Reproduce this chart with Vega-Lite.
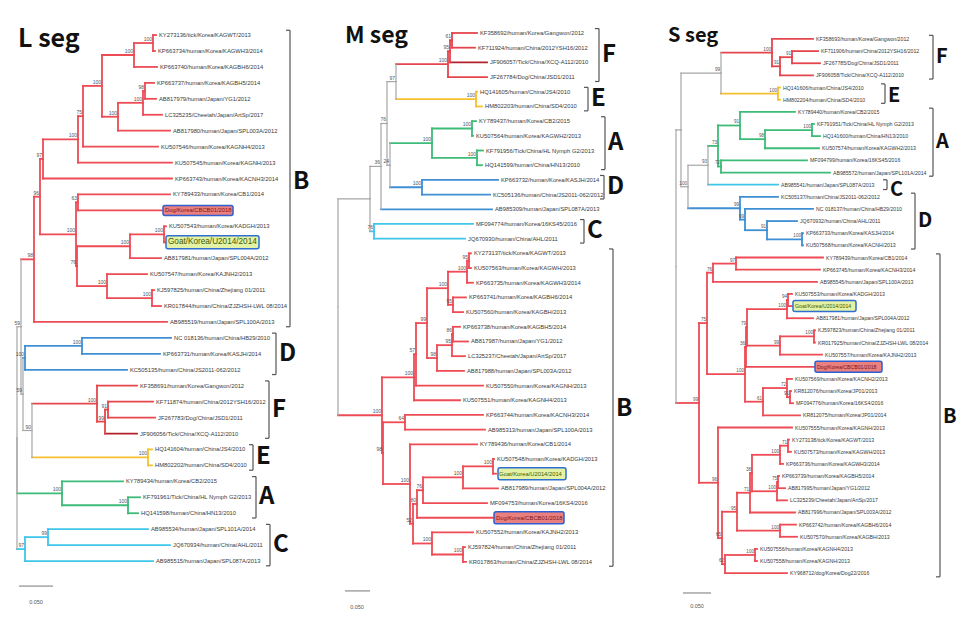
{
"$schema":"https://vega.github.io/schema/vega-lite/v6.json",
"padding":0,"spacing":0,"bounds":"flush","background":"white",
"config":{"view":{"stroke":null},"axis":{"disable":true},"legend":{"disable":true},"text":{"font":"Liberation Sans"}},
"datasets":{
"L":[
{"id":"R","x":17,"y":26.28,"c":"bb"},
{"id":"G1","p":"R","x":21,"y":19.3,"c":"bb","b":"59"},
{"id":"DFE","p":"G1","x":23,"y":23.53,"c":"bb","b":"59"},
{"id":"FE","p":"DFE","x":32,"y":25.81,"c":"bb","b":"90"},
{"id":"B0","p":"G1","x":34,"y":15.07,"c":"B","b":"98"},
{"id":"B1","p":"B0","x":40,"y":11.14,"c":"B","b":"96"},
{"id":"Bt","p":"B1","x":43,"y":8.77,"c":"B","b":"97"},
{"id":"n1_9","p":"Bt","x":78,"y":7.55,"c":"B","b":"100"},
{"id":"n1_8","p":"n1_9","x":83,"y":6.09,"c":"B","b":"75"},
{"id":"n1_7","p":"n1_8","x":102,"y":4.19,"c":"B","b":"100"},
{"id":"n1_3","p":"n1_7","x":134,"y":2.25,"c":"B","b":"100"},
{"id":"n1_2","p":"n1_3","x":153,"y":1.5,"c":"B","b":"100"},
{"id":"n4_7","p":"n1_7","x":118,"y":6.125,"c":"B","b":"100"},
{"id":"n4_6","p":"n4_7","x":143,"y":5.25,"c":"B","b":"100"},
{"id":"n4_5","p":"n4_6","x":145,"y":4.5,"c":"B","b":"98"},
{"id":"B2","p":"B1","x":76,"y":13.5,"c":"B","b":"100"},
{"id":"n11_12","p":"B2","x":78,"y":11.5,"c":"B","b":"63"},
{"id":"B3","p":"B2","x":77,"y":15.5,"c":"B","b":"76"},
{"id":"n13_15","p":"B3","x":130,"y":14.25,"c":"B","b":"100"},
{"id":"n13_14","p":"n13_15","x":164,"y":13.5,"c":"B","b":"100"},
{"id":"n16_18","p":"B3","x":107,"y":16.75,"c":"B","b":"100"},
{"id":"n17_18","p":"n16_18","x":152,"y":17.5,"c":"B","b":"100"},
{"id":"D0","p":"DFE","x":25,"y":21.25,"c":"D","b":"100"},
{"id":"n20_21","p":"D0","x":82,"y":20.5,"c":"D","b":"100"},
{"id":"F0","p":"FE","x":97,"y":24.125,"c":"F","b":"100"},
{"id":"n24_26","p":"F0","x":105,"y":25.25,"c":"F","b":"99"},
{"id":"n24_25","p":"n24_26","x":108,"y":24.5,"c":"F","b":"91"},
{"id":"E0","p":"FE","x":148,"y":27.5,"c":"E","b":"100"},
{"id":"A0","p":"R","x":62,"y":29.75,"c":"A","b":"100"},
{"id":"n30_31","p":"A0","x":128,"y":30.5,"c":"A","b":"100"},
{"id":"C0","p":"R","x":25,"y":33.25,"c":"C","b":"97"},
{"id":"n32_33","p":"C0","x":48,"y":32.5,"c":"C","b":"99"},
{"p":"n1_2","x":156,"y":1,"c":"B","t":"KY273136/tick/Korea/KAGWT/2013"},
{"p":"n1_2","x":155,"y":2,"c":"B","t":"KP663734/human/Korea/KAGWH3/2014"},
{"p":"n1_3","x":157,"y":3,"c":"B","t":"KP663740/human/Korea/KAGBH6/2014"},
{"p":"n4_5","x":154,"y":4,"c":"B","t":"KP663737/human/Korea/KAGBH5/2014"},
{"p":"n4_5","x":156,"y":5,"c":"B","t":"AB817979/human/Japan/YG1/2012"},
{"p":"n4_6","x":162,"y":6,"c":"B","t":"LC325235/Cheetah/Japan/ArtSp/2017"},
{"p":"n4_7","x":170,"y":7,"c":"B","t":"AB817980/human/Japan/SPL003A/2012"},
{"p":"n1_8","x":158,"y":8,"c":"B","t":"KU507546/human/Korea/KAGNH4/2013"},
{"p":"n1_9","x":172,"y":9,"c":"B","t":"KU507545/human/Korea/KAGNH/2013"},
{"p":"Bt","x":172,"y":10,"c":"B","t":"KP663743/human/Korea/KACNH3/2014"},
{"p":"n11_12","x":170,"y":11,"c":"B","t":"KY789433/human/Korea/CB1/2014"},
{"p":"n11_12","x":162,"y":12,"c":"B","t":"Dog/Korea/CBCB01/2018","h":"dog"},
{"p":"n13_14","x":166,"y":13,"c":"B","t":"KU507543/human/Korea/KADGH/2013"},
{"p":"n13_14","x":165,"y":14,"c":"B","t":"Goat/Korea/U2014/2014","h":"goat"},
{"p":"n13_15","x":161,"y":15,"c":"B","t":"AB817981/human/Japan/SPL004A/2012"},
{"p":"n16_18","x":147,"y":16,"c":"B","t":"KU507547/human/Korea/KAJNH2/2013"},
{"p":"n17_18","x":154,"y":17,"c":"B","t":"KJ597825/human/China/Zhejiang 01/2011"},
{"p":"n17_18","x":161,"y":18,"c":"B","t":"KR017844/human/China/ZJZHSH-LWL 08/2014"},
{"p":"B0","x":167,"y":19,"c":"B","t":"AB985519/human/Japan/SPL100A/2013"},
{"p":"n20_21","x":171,"y":20,"c":"D","t":"NC 018136/human/China/HB29/2010"},
{"p":"n20_21","x":160,"y":21,"c":"D","t":"KP663731/human/Korea/KASJH/2014"},
{"p":"D0","x":127,"y":22,"c":"D","t":"KC505135/human/China/JS2011-062/2012"},
{"p":"F0","x":137,"y":23,"c":"F","t":"KF358691/human/Korea/Gangwon/2012"},
{"p":"n24_25","x":153,"y":24,"c":"F","t":"KF711874/human/China/2012YSH16/2012"},
{"p":"n24_25","x":155,"y":25,"c":"F","t":"JF267783/Dog/China/JSD1/2011"},
{"p":"n24_26","x":137,"y":26,"c":"Ft","t":"JF906056/Tick/China/XCQ-A112/2010"},
{"p":"E0","x":152,"y":27,"c":"E","t":"HQ141604/human/China/JS4/2010"},
{"p":"E0","x":152,"y":28,"c":"E","t":"HM802202/human/China/SD4/2010"},
{"p":"A0","x":123,"y":29,"c":"A","t":"KY789434/human/Korea/CB2/2015"},
{"p":"n30_31","x":140,"y":30,"c":"A","t":"KF791961/Tick/China/HL Nymph G2/2013"},
{"p":"n30_31","x":138,"y":31,"c":"A","t":"HQ141598/human/China/HN13/2010"},
{"p":"n32_33","x":148,"y":32,"c":"C","t":"AB985534/human/Japan/SPL101A/2014"},
{"p":"n32_33","x":170,"y":33,"c":"C","t":"JQ670934/human/China/AHL/2011"},
{"p":"C0","x":153,"y":34,"c":"C","t":"AB985515/human/Japan/SPL087A/2013"}
],
"M":[
{"id":"R","x":28,"y":19.65,"c":"bb"},
{"id":"nB","p":"R","x":60,"y":12.29,"c":"bb"},
{"id":"q13","p":"nB","x":71,"y":10.08,"c":"bb","b":"36"},
{"id":"qFEAD","p":"q13","x":77,"y":7.16,"c":"bb","b":"76"},
{"id":"FE","p":"qFEAD","x":86,"y":4.31,"c":"bb","b":"97"},
{"id":"F0","p":"FE","x":138,"y":3.125,"c":"F","b":"100"},
{"id":"n1_3","p":"F0","x":140,"y":2.25,"c":"F","b":"95"},
{"id":"n1_2","p":"n1_3","x":142,"y":1.5,"c":"F","b":"61"},
{"id":"E0","p":"FE","x":166,"y":5.5,"c":"E","b":"100"},
{"id":"AD","p":"qFEAD","x":80,"y":10,"c":"bb","b":"24"},
{"id":"A0","p":"AD","x":122,"y":8.5,"c":"A","b":"100"},
{"id":"n7_8","p":"A0","x":162,"y":7.5,"c":"A","b":"100"},
{"id":"n9_10","p":"A0","x":167,"y":9.5,"c":"A","b":"100"},
{"id":"D0","p":"AD","x":112,"y":11.5,"c":"D","b":"100"},
{"id":"C0","p":"nB","x":64,"y":14.5,"c":"C","b":"76"},
{"id":"B1","p":"R","x":72,"y":27.02,"c":"B","b":"100"},
{"id":"n16_26","p":"B1","x":104,"y":24.44,"c":"B","b":"100"},
{"id":"n16_25","p":"n16_26","x":106,"y":22.875,"c":"B","b":"57"},
{"id":"n16_24","p":"n16_25","x":117,"y":20.75,"c":"B","b":"99"},
{"id":"n16_20","p":"n16_24","x":138,"y":18.375,"c":"B","b":"100"},
{"id":"n16_18","p":"n16_20","x":157,"y":17.25,"c":"B","b":"100"},
{"id":"n16_17","p":"n16_18","x":159,"y":16.5,"c":"B","b":"95"},
{"id":"n19_20","p":"n16_20","x":143,"y":19.5,"c":"B","b":"95"},
{"id":"n21_24","p":"n16_24","x":127,"y":23.125,"c":"B","b":"98"},
{"id":"n21_23","p":"n21_24","x":142,"y":22.25,"c":"B","b":"95"},
{"id":"n21_22","p":"n21_23","x":143,"y":21.5,"c":"B","b":"86"},
{"id":"B2","p":"B1","x":73,"y":29.6,"c":"B","b":"98"},
{"id":"n27_28","p":"B2","x":95,"y":27.5,"c":"B","b":"64"},
{"id":"n29_37","p":"B2","x":100,"y":31.7,"c":"B","b":"100"},
{"id":"n30_37","p":"n29_37","x":103,"y":34.4,"c":"B","b":"52"},
{"id":"n30_34","p":"n30_37","x":107,"y":33.06,"c":"B","b":"80"},
{"id":"n30_33","p":"n30_34","x":113,"y":32.125,"c":"B","b":"76"},
{"id":"n30_32","p":"n30_33","x":153,"y":31.25,"c":"B","b":"100"},
{"id":"n30_31","p":"n30_32","x":183,"y":30.5,"c":"B","b":"100"},
{"id":"n35_37","p":"n30_37","x":122,"y":35.75,"c":"B","b":"100"},
{"id":"n36_37","p":"n35_37","x":153,"y":36.5,"c":"B","b":"100"},
{"p":"n1_2","x":167,"y":1,"c":"F","t":"KF358692/human/Korea/Gangwon/2012"},
{"p":"n1_2","x":165,"y":2,"c":"F","t":"KF711924/human/China/2012YSH16/2012"},
{"p":"n1_3","x":177,"y":3,"c":"Ft","t":"JF906057/Tick/China/XCQ-A112/2010"},
{"p":"F0","x":177,"y":4,"c":"F","t":"JF267784/Dog/China/JSD1/2011"},
{"p":"E0","x":167,"y":5,"c":"E","t":"HQ141605/human/China/JS4/2010"},
{"p":"E0","x":172,"y":6,"c":"E","t":"HM802203/human/China/SD4/2010"},
{"p":"n7_8","x":166,"y":7,"c":"A","t":"KY789437/human/Korea/CB2/2015"},
{"p":"n7_8","x":163,"y":8,"c":"A","t":"KU507564/human/Korea/KAGWH2/2013"},
{"p":"n9_10","x":173,"y":9,"c":"A","t":"KF791956/Tick/China/HL Nymph G2/2013"},
{"p":"n9_10","x":172,"y":10,"c":"A","t":"HQ141599/human/China/HN13/2010"},
{"p":"D0","x":188,"y":11,"c":"D","t":"KP663732/human/Korea/KASJH/2014"},
{"p":"D0","x":180,"y":12,"c":"D","t":"KC505136/human/China/JS2011-062/2012"},
{"p":"q13","x":182,"y":13,"c":"D","t":"AB985309/human/Japan/SPL087A/2013"},
{"p":"C0","x":163,"y":14,"c":"C","t":"MF094774/human/Korea/16KS45/2016"},
{"p":"C0","x":155,"y":15,"c":"C","t":"JQ670930/human/China/AHL/2011"},
{"p":"n16_17","x":161,"y":16,"c":"B","t":"KY273137/tick/Korea/KAGWT/2013"},
{"p":"n16_17","x":161,"y":17,"c":"B","t":"KU507563/human/Korea/KAGWH/2013"},
{"p":"n16_18","x":163,"y":18,"c":"B","t":"KP663735/human/Korea/KAGWH3/2014"},
{"p":"n19_20","x":156,"y":19,"c":"B","t":"KP663741/human/Korea/KAGBH6/2014"},
{"p":"n19_20","x":153,"y":20,"c":"B","t":"KU507560/human/Korea/KAGBH/2013"},
{"p":"n21_22","x":150,"y":21,"c":"B","t":"KP663738/human/Korea/KAGBH5/2014"},
{"p":"n21_22","x":158,"y":22,"c":"B","t":"AB817987/human/Japan/YG1/2012"},
{"p":"n21_23","x":155,"y":23,"c":"B","t":"LC325237/Cheetah/Japan/ArtSp/2017"},
{"p":"n21_24","x":154,"y":24,"c":"B","t":"AB817988/human/Japan/SPL003A/2012"},
{"p":"n16_25","x":173,"y":25,"c":"B","t":"KU507550/human/Korea/KAGNH/2013"},
{"p":"n16_26","x":150,"y":26,"c":"B","t":"KU507551/human/Korea/KAGNH4/2013"},
{"p":"n27_28","x":173,"y":27,"c":"B","t":"KP663744/human/Korea/KACNH3/2014"},
{"p":"n27_28","x":175,"y":28,"c":"B","t":"AB985313/human/Japan/SPL100A/2013"},
{"p":"n29_37","x":167,"y":29,"c":"B","t":"KY789436/human/Korea/CB1/2014"},
{"p":"n30_31","x":184,"y":30,"c":"B","t":"KU507548/human/Korea/KADGH/2013"},
{"p":"n30_31","x":186,"y":31,"c":"B","t":"Goat/Korea/U2014/2014","h":"goat"},
{"p":"n30_32","x":188,"y":32,"c":"B","t":"AB817989/human/Japan/SPL004A/2012"},
{"p":"n30_33","x":177,"y":33,"c":"B","t":"MF094753/human/Korea/16KS4/2016"},
{"p":"n30_34","x":183,"y":34,"c":"B","t":"Dog/Korea/CBCB01/2018","h":"dog"},
{"p":"n35_37","x":163,"y":35,"c":"B","t":"KU507552/human/Korea/KAJNH2/2013"},
{"p":"n36_37","x":155,"y":36,"c":"B","t":"KJ597824/human/China/Zhejiang 01/2011"},
{"p":"n36_37","x":156,"y":37,"c":"B","t":"KR017863/human/China/ZJZHSH-LWL 08/2014"}
],
"S":[
{"id":"R","x":36,"y":19.75,"c":"bb"},
{"id":"r1","p":"R","x":41,"y":8.49,"c":"bb"},
{"id":"FE","p":"r1","x":81,"y":3.81,"c":"bb","b":"99"},
{"id":"F0","p":"FE","x":132,"y":2.125,"c":"F","b":"100"},
{"id":"n2_4","p":"F0","x":140,"y":3.25,"c":"F","b":"91"},
{"id":"n2_3","p":"n2_4","x":152,"y":2.5,"c":"F","b":"91"},
{"id":"E0","p":"FE","x":138,"y":5.5,"c":"E","b":"100"},
{"id":"ACD","p":"r1","x":48,"y":13.17,"c":"bb","b":"100"},
{"id":"AC","p":"ACD","x":68,"y":11.4,"c":"bb","b":"93"},
{"id":"A0","p":"AC","x":78,"y":9.81,"c":"A","b":"73"},
{"id":"n7_10","p":"A0","x":100,"y":8.125,"c":"A","b":"91"},
{"id":"n8_10","p":"n7_10","x":125,"y":9.25,"c":"A","b":"98"},
{"id":"n8_9","p":"n8_10","x":172,"y":8.5,"c":"A","b":"100"},
{"id":"n11_12","p":"A0","x":81,"y":11.5,"c":"A","b":"72"},
{"id":"D0","p":"ACD","x":100,"y":14.94,"c":"D","b":"99"},
{"id":"n15_18","p":"D0","x":105,"y":15.875,"c":"D","b":"99"},
{"id":"n16_18","p":"n15_18","x":127,"y":16.75,"c":"D","b":"91"},
{"id":"n17_18","p":"n16_18","x":162,"y":17.5,"c":"D","b":"100"},
{"id":"B0","p":"R","x":59,"y":30.98,"c":"B","b":"99"},
{"id":"n19_32","p":"B0","x":67,"y":24.4,"c":"B","b":"75"},
{"id":"n19_21","p":"n19_32","x":73,"y":20.25,"c":"B","b":"76"},
{"id":"n19_20","p":"n19_21","x":96,"y":19.5,"c":"B","b":"97"},
{"id":"n22_32","p":"n19_32","x":105,"y":28.6,"c":"B","b":"100"},
{"id":"n22_28","p":"n22_32","x":106,"y":26.375,"c":"B","b":"36"},
{"id":"n22_27","p":"n22_28","x":107,"y":24.75,"c":"B","b":"79"},
{"id":"n22_24","p":"n22_27","x":147,"y":23.25,"c":"B","b":"100"},
{"id":"n22_23","p":"n22_24","x":148,"y":22.5,"c":"B","b":"94"},
{"id":"n25_27","p":"n22_27","x":140,"y":26.25,"c":"B","b":"99"},
{"id":"n25_26","p":"n25_27","x":174,"y":25.5,"c":"B","b":"100"},
{"id":"n29_32","p":"n22_32","x":123,"y":30.875,"c":"B","b":"61"},
{"id":"n29_31","p":"n29_32","x":147,"y":29.75,"c":"B","b":"72"},
{"id":"n30_31","p":"n29_31","x":150,"y":30.5,"c":"B","b":"91"},
{"id":"n33_45","p":"B0","x":78,"y":37.55,"c":"B","b":"96"},
{"id":"n34_45","p":"n33_45","x":82,"y":42.1,"c":"B","b":"65"},
{"id":"n34_42","p":"n34_45","x":97,"y":39.94,"c":"B","b":"95"},
{"id":"n34_40","p":"n34_42","x":110,"y":38.375,"c":"B","b":"71"},
{"id":"n34_39","p":"n34_40","x":112,"y":36.75,"c":"B","b":"38"},
{"id":"n34_36","p":"n34_39","x":140,"y":35.25,"c":"B","b":"100"},
{"id":"n34_35","p":"n34_36","x":148,"y":34.5,"c":"B","b":"71"},
{"id":"n37_39","p":"n34_39","x":137,"y":38.25,"c":"B","b":"100"},
{"id":"n37_38","p":"n37_39","x":138,"y":37.5,"c":"B","b":"75"},
{"id":"n41_42","p":"n34_42","x":140,"y":41.5,"c":"B","b":"100"},
{"id":"n43_45","p":"n34_45","x":85,"y":44.25,"c":"B","b":"62"},
{"id":"n43_44","p":"n43_45","x":115,"y":43.5,"c":"B","b":"100"},
{"p":"F0","x":173,"y":1,"c":"F","t":"KF358693/human/Korea/Gangwon/2012"},
{"p":"n2_3","x":178,"y":2,"c":"F","t":"KF711906/human/China/2012YSH16/2012"},
{"p":"n2_3","x":180,"y":3,"c":"F","t":"JF267785/Dog/China/JSD1/2011"},
{"p":"n2_4","x":173,"y":4,"c":"F","t":"JF906058/Tick/China/XCQ-A112/2010"},
{"p":"E0","x":140,"y":5,"c":"E","t":"HQ141606/human/China/JS4/2010"},
{"p":"E0","x":140,"y":6,"c":"E","t":"HM802204/human/China/SD4/2010"},
{"p":"n7_10","x":155,"y":7,"c":"A","t":"KY789440/human/Korea/CB2/2015"},
{"p":"n8_9","x":174,"y":8,"c":"A","t":"KF791951/Tick/China/HL Nymph G2/2013"},
{"p":"n8_9","x":180,"y":9,"c":"A","t":"HQ141600/human/China/HN13/2010"},
{"p":"n8_10","x":179,"y":10,"c":"A","t":"KU507574/human/Korea/KAGWH2/2013"},
{"p":"n11_12","x":167,"y":11,"c":"A","t":"MF094799/human/Korea/16KS45/2016"},
{"p":"n11_12","x":190,"y":12,"c":"A","t":"AB985572/human/Japan/SPL101A/2014"},
{"p":"AC","x":138,"y":13,"c":"C","t":"AB985541/human/Japan/SPL087A/2013"},
{"p":"D0","x":138,"y":14,"c":"D","t":"KC505137/human/China/JS2011-062/2012"},
{"p":"n15_18","x":173,"y":15,"c":"D","t":"NC 018137/human/China/HB29/2010"},
{"p":"n16_18","x":157,"y":16,"c":"D","t":"JQ670932/human/China/AHL/2011"},
{"p":"n17_18","x":163,"y":17,"c":"D","t":"KP663733/human/Korea/KASJH/2014"},
{"p":"n17_18","x":163,"y":18,"c":"D","t":"KU507568/human/Korea/KACNH/2013"},
{"p":"n19_20","x":183,"y":19,"c":"B","t":"KY789439/human/Korea/CB1/2014"},
{"p":"n19_20","x":180,"y":20,"c":"B","t":"KP663745/human/Korea/KACNH3/2014"},
{"p":"n19_21","x":177,"y":21,"c":"B","t":"AB985545/human/Japan/SPL100A/2013"},
{"p":"n22_23","x":152,"y":22,"c":"B","t":"KU507553/human/Korea/KADGH/2013"},
{"p":"n22_23","x":152,"y":23,"c":"B","t":"Goat/Korea/U2014/2014","h":"goat"},
{"p":"n22_24","x":173,"y":24,"c":"B","t":"AB817981/human/Japan/SPL004A/2012"},
{"p":"n25_26","x":175,"y":25,"c":"B","t":"KJ597823/human/China/Zhejiang 01/2011"},
{"p":"n25_26","x":175,"y":26,"c":"B","t":"KR017925/human/China/ZJZHSH-LWL 08/2014"},
{"p":"n25_27","x":182,"y":27,"c":"B","t":"KU507557/human/Korea/KAJNH2/2013"},
{"p":"n22_28","x":174,"y":28,"c":"B","t":"Dog/Korea/CBCB01/2018","h":"dog"},
{"p":"n29_31","x":152,"y":29,"c":"B","t":"KU507569/human/Korea/KACNH2/2013"},
{"p":"n30_31","x":151,"y":30,"c":"B","t":"KR812076/human/Korea/JP01/2013"},
{"p":"n30_31","x":153,"y":31,"c":"B","t":"MF094776/human/Korea/16KS4/2016"},
{"p":"n29_32","x":160,"y":32,"c":"B","t":"KR812075/human/Korea/JP01/2014"},
{"p":"n33_45","x":152,"y":33,"c":"B","t":"KU507555/human/Korea/KAGNH/2013"},
{"p":"n34_35","x":149,"y":34,"c":"B","t":"KY273138/tick/Korea/KAGWT/2013"},
{"p":"n34_35","x":151,"y":35,"c":"B","t":"KU507573/human/Korea/KAGWH/2013"},
{"p":"n34_36","x":143,"y":36,"c":"B","t":"KP663736/human/Korea/KAGWH3/2014"},
{"p":"n37_38","x":139,"y":37,"c":"B","t":"KP663739/human/Korea/KAGBH5/2014"},
{"p":"n37_38","x":145,"y":38,"c":"B","t":"AB817995/human/Japan/YG1/2012"},
{"p":"n37_39","x":147,"y":39,"c":"B","t":"LC325239/Cheetah/Japan/ArtSp/2017"},
{"p":"n34_40","x":155,"y":40,"c":"B","t":"AB817996/human/Japan/SPL003A/2012"},
{"p":"n41_42","x":156,"y":41,"c":"B","t":"KP663742/human/Korea/KAGBH6/2014"},
{"p":"n41_42","x":157,"y":42,"c":"B","t":"KU507570/human/Korea/KAGBH/2013"},
{"p":"n43_44","x":117,"y":43,"c":"B","t":"KU507556/human/Korea/KAGNH4/2013"},
{"p":"n43_44","x":117,"y":44,"c":"B","t":"KU507558/human/Korea/KAGNH/2013"},
{"p":"n43_45","x":147,"y":45,"c":"B","t":"KY968712/dog/Korea/Dog22/2016"}
],
"LB":[{"k":"B","x":290,"y1":0.7,"y2":19.3,"ym":10.2},{"k":"D","x":276,"y1":19.7,"y2":22.3,"ym":21},{"k":"F","x":269,"y1":22.7,"y2":26.3,"ym":24.5},{"k":"E","x":253,"y1":26.7,"y2":28.3,"ym":27.5},{"k":"A","x":256,"y1":28.7,"y2":31.3,"ym":30},{"k":"C","x":270,"y1":31.7,"y2":34.3,"ym":33}],
"MB":[{"k":"F","x":289,"y1":0.7,"y2":4.3,"ym":2.5},{"k":"E","x":278,"y1":4.7,"y2":6.3,"ym":5.5},{"k":"A","x":295,"y1":6.7,"y2":10.3,"ym":8.5},{"k":"D","x":294,"y1":10.7,"y2":12.3,"ym":11.5},{"k":"C","x":274,"y1":13.7,"y2":15.3,"ym":14.5},{"k":"B","x":303,"y1":15.7,"y2":37.3,"ym":26.6}],
"SB":[{"k":"F","x":293,"y1":0.7,"y2":4.3,"ym":2.5},{"k":"E","x":245,"y1":4.7,"y2":6.3,"ym":5.67},{"k":"A","x":293,"y1":6.7,"y2":12.3,"ym":9.5},{"k":"C","x":247,"y1":12.6,"y2":13.4,"ym":13.45},{"k":"D","x":275,"y1":13.7,"y2":18.3,"ym":16},{"k":"B","x":300,"y1":18.7,"y2":45.3,"ym":32.1}]
},
"hconcat":[
{"width":310,"height":635,
"layer":[
{"data":{"name":"L"},"transform":[{"lookup":"p","from":{"data":{"name":"L"},"key":"id","fields":["x","y","c"]},"as":["px","py","pc"]},{"filter":"datum.p != null"}],
"mark":{"type":"rule","strokeCap":"square"},
"encoding":{"x":{"field":"px","type":"quantitative","scale":{"domain":[0,310],"nice":false,"zero":false}},"x2":{"field":"x"},
"y":{"field":"y","type":"quantitative","scale":{"domain":[-1.2,38.64],"reverse":true,"nice":false,"zero":false}},
"color":{"field":"c","type":"nominal","scale":{"domain":["bb","A","B","C","D","E","F","Ft"],"range":["#a6a6a6","#3dbb78","#ee4b55","#3fc6ea","#3f8fd4","#f6c02e","#e5454d","#b3202c"]}},
"strokeWidth":{"condition":{"test":"datum.c==='bb'","value":1.2},"value":1.8}}},
{"data":{"name":"L"},"transform":[{"lookup":"p","from":{"data":{"name":"L"},"key":"id","fields":["x","y","c"]},"as":["px","py","pc"]},{"filter":"datum.p != null"}],
"mark":{"type":"rule","strokeCap":"square"},
"encoding":{"x":{"field":"px","type":"quantitative"},"y":{"field":"py","type":"quantitative"},"y2":{"field":"y"},
"color":{"field":"pc","type":"nominal","scale":{"domain":["bb","A","B","C","D","E","F","Ft"],"range":["#a6a6a6","#3dbb78","#ee4b55","#3fc6ea","#3f8fd4","#f6c02e","#e5454d","#b3202c"]}},
"strokeWidth":{"condition":{"test":"datum.pc==='bb'","value":1.2},"value":1.8}}},
{"data":{"name":"L"},"transform":[{"filter":"datum.h==='dog'"}],"mark":{"type":"rect","fill":"#ea7f80","stroke":"#2f5fd0","strokeWidth":1.5,"cornerRadius":2,"xOffset":1,"x2Offset":71,"yOffset":-5,"y2Offset":5},
"encoding":{"x":{"field":"x","type":"quantitative"},"x2":{"field":"x"},"y":{"field":"y","type":"quantitative"},"y2":{"field":"y"}}},
{"data":{"name":"L"},"transform":[{"filter":"datum.h==='goat'"}],"mark":{"type":"rect","fill":"#e4f2a6","stroke":"#2f6fd0","strokeWidth":1.5,"cornerRadius":2,"xOffset":1,"x2Offset":94,"yOffset":-6.5,"y2Offset":6.5},
"encoding":{"x":{"field":"x","type":"quantitative"},"x2":{"field":"x"},"y":{"field":"y","type":"quantitative"},"y2":{"field":"y"}}},
{"data":{"name":"L"},"transform":[{"filter":"datum.t"}],"mark":{"type":"text","align":"left","baseline":"middle","dx":3},
"encoding":{"x":{"field":"x","type":"quantitative"},"y":{"field":"y","type":"quantitative"},"text":{"field":"t"},
"size":{"condition":{"test":"datum.h==='goat'","value":8.2},"value":5.8},
"color":{"condition":[{"test":"datum.h==='dog'","value":"#7a1515"},{"test":"datum.h==='goat'","value":"#3f5a00"}],"value":"#3a3a3a"}}},
{"data":{"name":"L"},"transform":[{"filter":"datum.b"}],"mark":{"type":"text","align":"right","baseline":"bottom","dx":-1,"dy":-1,"fontSize":5,"color":"#555"},
"encoding":{"x":{"field":"x","type":"quantitative"},"y":{"field":"y","type":"quantitative"},"text":{"field":"b"}}},
{"data":{"name":"LB"},"mark":{"type":"rule","color":"#555","strokeWidth":1.2},"encoding":{"x":{"field":"x","type":"quantitative"},"y":{"field":"y1","type":"quantitative"},"y2":{"field":"y2"}}},
{"data":{"name":"LB"},"mark":{"type":"rule","color":"#555","strokeWidth":1.2,"xOffset":-4},"encoding":{"x":{"field":"x","type":"quantitative"},"x2":{"field":"x"},"y":{"field":"y1","type":"quantitative"}}},
{"data":{"name":"LB"},"mark":{"type":"rule","color":"#555","strokeWidth":1.2,"xOffset":-4},"encoding":{"x":{"field":"x","type":"quantitative"},"x2":{"field":"x"},"y":{"field":"y2","type":"quantitative"}}},
{"data":{"name":"LB"},"mark":{"type":"text","align":"left","baseline":"middle","dx":3,"fontSize":24,"fontWeight":"bold","font":"Noto Sans CJK KR","color":"#111"},"encoding":{"x":{"field":"x","type":"quantitative"},"y":{"field":"ym","type":"quantitative"},"text":{"field":"k"}}},
{"data":{"values":[{"t":"L seg","x":18,"y":1.75}]},"mark":{"type":"text","align":"left","baseline":"alphabetic","fontSize":25,"fontWeight":"bold","font":"Noto Sans CJK KR","color":"#111"},"encoding":{"x":{"field":"x","type":"quantitative"},"y":{"field":"y","type":"quantitative"},"text":{"field":"t"}}},
{"data":{"values":[{"x":19,"x2":53,"y":35.57}]},"mark":{"type":"rule","color":"#777","strokeWidth":1},"encoding":{"x":{"field":"x","type":"quantitative"},"x2":{"field":"x2"},"y":{"field":"y","type":"quantitative"}}},
{"data":{"values":[{"t":"0.050","x":36,"y":36.6}]},"mark":{"type":"text","baseline":"middle","fontSize":5.5,"color":"#555"},"encoding":{"x":{"field":"x","type":"quantitative"},"y":{"field":"y","type":"quantitative"},"text":{"field":"t"}}}
]},
{"width":330,"height":635,
"layer":[
{"data":{"name":"M"},"transform":[{"lookup":"p","from":{"data":{"name":"M"},"key":"id","fields":["x","y","c"]},"as":["px","py","pc"]},{"filter":"datum.p != null"}],
"mark":{"type":"rule","strokeCap":"square"},
"encoding":{"x":{"field":"px","type":"quantitative","scale":{"domain":[0,330],"nice":false,"zero":false}},"x2":{"field":"x"},
"y":{"field":"y","type":"quantitative","scale":{"domain":[-1.246,41.98],"reverse":true,"nice":false,"zero":false}},
"color":{"field":"c","type":"nominal","scale":{"domain":["bb","A","B","C","D","E","F","Ft"],"range":["#a6a6a6","#3dbb78","#ee4b55","#3fc6ea","#3f8fd4","#f6c02e","#e5454d","#b3202c"]}},
"strokeWidth":{"condition":{"test":"datum.c==='bb'","value":1.2},"value":1.8}}},
{"data":{"name":"M"},"transform":[{"lookup":"p","from":{"data":{"name":"M"},"key":"id","fields":["x","y","c"]},"as":["px","py","pc"]},{"filter":"datum.p != null"}],
"mark":{"type":"rule","strokeCap":"square"},
"encoding":{"x":{"field":"px","type":"quantitative"},"y":{"field":"py","type":"quantitative"},"y2":{"field":"y"},
"color":{"field":"pc","type":"nominal","scale":{"domain":["bb","A","B","C","D","E","F","Ft"],"range":["#a6a6a6","#3dbb78","#ee4b55","#3fc6ea","#3f8fd4","#f6c02e","#e5454d","#b3202c"]}},
"strokeWidth":{"condition":{"test":"datum.pc==='bb'","value":1.2},"value":1.8}}},
{"data":{"name":"M"},"transform":[{"filter":"datum.h==='dog'"}],"mark":{"type":"rect","fill":"#ea7f80","stroke":"#2f5fd0","strokeWidth":1.5,"cornerRadius":2,"xOffset":1,"x2Offset":71,"yOffset":-6,"y2Offset":6},
"encoding":{"x":{"field":"x","type":"quantitative"},"x2":{"field":"x"},"y":{"field":"y","type":"quantitative"},"y2":{"field":"y"}}},
{"data":{"name":"M"},"transform":[{"filter":"datum.h==='goat'"}],"mark":{"type":"rect","fill":"#e4f2a6","stroke":"#2f6fd0","strokeWidth":1.5,"cornerRadius":2,"xOffset":2,"x2Offset":70,"yOffset":-6,"y2Offset":6},
"encoding":{"x":{"field":"x","type":"quantitative"},"x2":{"field":"x"},"y":{"field":"y","type":"quantitative"},"y2":{"field":"y"}}},
{"data":{"name":"M"},"transform":[{"filter":"datum.t"}],"mark":{"type":"text","align":"left","baseline":"middle","dx":3,"fontSize":5.8},
"encoding":{"x":{"field":"x","type":"quantitative"},"y":{"field":"y","type":"quantitative"},"text":{"field":"t"},
"color":{"condition":[{"test":"datum.h==='dog'","value":"#7a1515"},{"test":"datum.h==='goat'","value":"#3f5a00"}],"value":"#3a3a3a"}}},
{"data":{"name":"M"},"transform":[{"filter":"datum.b"}],"mark":{"type":"text","align":"right","baseline":"bottom","dx":-1,"dy":-1,"fontSize":5,"color":"#555"},
"encoding":{"x":{"field":"x","type":"quantitative"},"y":{"field":"y","type":"quantitative"},"text":{"field":"b"}}},
{"data":{"name":"MB"},"mark":{"type":"rule","color":"#555","strokeWidth":1.2},"encoding":{"x":{"field":"x","type":"quantitative"},"y":{"field":"y1","type":"quantitative"},"y2":{"field":"y2"}}},
{"data":{"name":"MB"},"mark":{"type":"rule","color":"#555","strokeWidth":1.2,"xOffset":-4},"encoding":{"x":{"field":"x","type":"quantitative"},"x2":{"field":"x"},"y":{"field":"y1","type":"quantitative"}}},
{"data":{"name":"MB"},"mark":{"type":"rule","color":"#555","strokeWidth":1.2,"xOffset":-4},"encoding":{"x":{"field":"x","type":"quantitative"},"x2":{"field":"x"},"y":{"field":"y2","type":"quantitative"}}},
{"data":{"name":"MB"},"mark":{"type":"text","align":"left","baseline":"middle","dx":3,"fontSize":24,"fontWeight":"bold","font":"Noto Sans CJK KR","color":"#111"},"encoding":{"x":{"field":"x","type":"quantitative"},"y":{"field":"ym","type":"quantitative"},"text":{"field":"k"}}},
{"data":{"values":[{"t":"M seg","x":35,"y":1.68}]},"mark":{"type":"text","align":"left","baseline":"alphabetic","fontSize":23,"fontWeight":"bold","font":"Noto Sans CJK KR","color":"#111"},"encoding":{"x":{"field":"x","type":"quantitative"},"y":{"field":"y","type":"quantitative"},"text":{"field":"t"}}},
{"data":{"values":[{"x":35,"x2":60,"y":38.98}]},"mark":{"type":"rule","color":"#777","strokeWidth":1},"encoding":{"x":{"field":"x","type":"quantitative"},"x2":{"field":"x2"},"y":{"field":"y","type":"quantitative"}}},
{"data":{"values":[{"t":"0.050","x":47,"y":40.07}]},"mark":{"type":"text","baseline":"middle","fontSize":5.5,"color":"#555"},"encoding":{"x":{"field":"x","type":"quantitative"},"y":{"field":"y","type":"quantitative"},"text":{"field":"t"}}}
]},
{"width":340,"height":635,
"layer":[
{"data":{"name":"S"},"transform":[{"lookup":"p","from":{"data":{"name":"S"},"key":"id","fields":["x","y","c"]},"as":["px","py","pc"]},{"filter":"datum.p != null"}],
"mark":{"type":"rule","strokeCap":"square"},
"encoding":{"x":{"field":"px","type":"quantitative","scale":{"domain":[0,340],"nice":false,"zero":false}},"x2":{"field":"x"},
"y":{"field":"y","type":"quantitative","scale":{"domain":[-2.21,50.09],"reverse":true,"nice":false,"zero":false}},
"color":{"field":"c","type":"nominal","scale":{"domain":["bb","A","B","C","D","E","F","Ft"],"range":["#a6a6a6","#3dbb78","#ee4b55","#3fc6ea","#3f8fd4","#f6c02e","#e5454d","#b3202c"]}},
"strokeWidth":{"condition":{"test":"datum.c==='bb'","value":1.2},"value":1.8}}},
{"data":{"name":"S"},"transform":[{"lookup":"p","from":{"data":{"name":"S"},"key":"id","fields":["x","y","c"]},"as":["px","py","pc"]},{"filter":"datum.p != null"}],
"mark":{"type":"rule","strokeCap":"square"},
"encoding":{"x":{"field":"px","type":"quantitative"},"y":{"field":"py","type":"quantitative"},"y2":{"field":"y"},
"color":{"field":"pc","type":"nominal","scale":{"domain":["bb","A","B","C","D","E","F","Ft"],"range":["#a6a6a6","#3dbb78","#ee4b55","#3fc6ea","#3f8fd4","#f6c02e","#e5454d","#b3202c"]}},
"strokeWidth":{"condition":{"test":"datum.pc==='bb'","value":1.2},"value":1.8}}},
{"data":{"name":"S"},"transform":[{"filter":"datum.h==='dog'"}],"mark":{"type":"rect","fill":"#ea7f80","stroke":"#2f5fd0","strokeWidth":1.5,"cornerRadius":2,"xOffset":1,"x2Offset":68,"yOffset":-5.5,"y2Offset":5.5},
"encoding":{"x":{"field":"x","type":"quantitative"},"x2":{"field":"x"},"y":{"field":"y","type":"quantitative"},"y2":{"field":"y"}}},
{"data":{"name":"S"},"transform":[{"filter":"datum.h==='goat'"}],"mark":{"type":"rect","fill":"#e4f2a6","stroke":"#2f6fd0","strokeWidth":1.5,"cornerRadius":2,"xOffset":1,"x2Offset":64,"yOffset":-5.5,"y2Offset":5.5},
"encoding":{"x":{"field":"x","type":"quantitative"},"x2":{"field":"x"},"y":{"field":"y","type":"quantitative"},"y2":{"field":"y"}}},
{"data":{"name":"S"},"transform":[{"filter":"datum.t"}],"mark":{"type":"text","align":"left","baseline":"middle","dx":3,"fontSize":5.2},
"encoding":{"x":{"field":"x","type":"quantitative"},"y":{"field":"y","type":"quantitative"},"text":{"field":"t"},
"color":{"condition":[{"test":"datum.h==='dog'","value":"#7a1515"},{"test":"datum.h==='goat'","value":"#3f5a00"}],"value":"#3a3a3a"}}},
{"data":{"name":"S"},"transform":[{"filter":"datum.b"}],"mark":{"type":"text","align":"right","baseline":"bottom","dx":-1,"dy":-1,"fontSize":4.6,"color":"#555"},
"encoding":{"x":{"field":"x","type":"quantitative"},"y":{"field":"y","type":"quantitative"},"text":{"field":"b"}}},
{"data":{"name":"SB"},"mark":{"type":"rule","color":"#555","strokeWidth":1.2},"encoding":{"x":{"field":"x","type":"quantitative"},"y":{"field":"y1","type":"quantitative"},"y2":{"field":"y2"}}},
{"data":{"name":"SB"},"mark":{"type":"rule","color":"#555","strokeWidth":1.2,"xOffset":-4},"encoding":{"x":{"field":"x","type":"quantitative"},"x2":{"field":"x"},"y":{"field":"y1","type":"quantitative"}}},
{"data":{"name":"SB"},"mark":{"type":"rule","color":"#555","strokeWidth":1.2,"xOffset":-4},"encoding":{"x":{"field":"x","type":"quantitative"},"x2":{"field":"x"},"y":{"field":"y2","type":"quantitative"}}},
{"data":{"name":"SB"},"mark":{"type":"text","align":"left","baseline":"middle","dx":3,"fontSize":20,"fontWeight":"bold","font":"Noto Sans CJK KR","color":"#111"},"encoding":{"x":{"field":"x","type":"quantitative"},"y":{"field":"ym","type":"quantitative"},"text":{"field":"k"}}},
{"data":{"values":[{"t":"S seg","x":28,"y":1.25}]},"mark":{"type":"text","align":"left","baseline":"alphabetic","fontSize":20,"fontWeight":"bold","font":"Noto Sans CJK KR","color":"#111"},"encoding":{"x":{"field":"x","type":"quantitative"},"y":{"field":"y","type":"quantitative"},"text":{"field":"t"}}},
{"data":{"values":[{"x":43,"x2":71,"y":46.63}]},"mark":{"type":"rule","color":"#777","strokeWidth":1},"encoding":{"x":{"field":"x","type":"quantitative"},"x2":{"field":"x2"},"y":{"field":"y","type":"quantitative"}}},
{"data":{"values":[{"t":"0.050","x":57,"y":47.7}]},"mark":{"type":"text","baseline":"middle","fontSize":5.5,"color":"#555"},"encoding":{"x":{"field":"x","type":"quantitative"},"y":{"field":"y","type":"quantitative"},"text":{"field":"t"}}}
]}
]
}
